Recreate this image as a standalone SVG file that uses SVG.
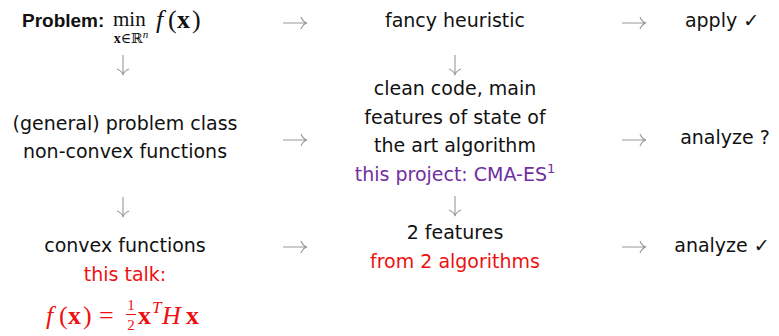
<svg xmlns="http://www.w3.org/2000/svg" width="779" height="336" viewBox="0 0 779 336">
<style>
.t{font-family:"DejaVu Sans","Liberation Sans",sans-serif;font-size:19px;fill:#111;text-anchor:middle}
.m{font-family:"Liberation Serif","DejaVu Serif",serif;font-size:26px;fill:#111}
.i{font-style:italic}
.b{font-weight:bold}
.red{fill:#ee1111}
.pur{fill:#7030a0}
.ar{stroke:#9a9a9a;stroke-width:1.1;fill:none}
</style>
<rect width="779" height="336" fill="#fff"/>
<g id="problem">
<text x="22" y="27" style="font-family:'Liberation Sans',sans-serif;font-size:19px;font-weight:bold;fill:#111">Problem:</text>
<text x="113" y="26" class="m" style="font-size:21px">min</text>
<text x="131" y="43" class="m" text-anchor="middle" style="font-size:14px"><tspan font-weight="bold">x</tspan>∈ℝ<tspan font-style="italic" dy="-5" font-size="11">n</tspan></text>
<text y="28" class="m"><tspan x="156" class="i">f</tspan><tspan x="168">(</tspan><tspan x="177" class="b">x</tspan><tspan x="192">)</tspan></text>
</g>
<g id="fancy"><text x="455" y="27" class="t">fancy heuristic</text></g>
<g id="apply"><text x="722" y="27" class="t">apply ✓</text></g>
<g id="general">
<text x="125" y="130" class="t">(general) problem class</text>
<text x="125" y="158" class="t">non-convex functions</text>
</g>
<g id="clean">
<text x="455" y="95" class="t">clean code, main</text>
<text x="455" y="124" class="t">features of state of</text>
<text x="455" y="152" class="t">the art algorithm</text>
<text x="455" y="181" class="t pur">this project: CMA-ES<tspan dy="-8" font-size="13">1</tspan></text>
</g>
<g id="analyze1"><text x="725" y="144" class="t">analyze ?</text></g>
<g id="convex">
<text x="125" y="252" class="t">convex functions</text>
<text x="125" y="281" class="t red">this talk:</text>
<text y="324" class="m red"><tspan x="46" class="i">f</tspan><tspan x="59">(</tspan><tspan x="68" class="b">x</tspan><tspan x="83">)</tspan><tspan x="99">=</tspan></text>
<text x="131" y="310" class="m red" text-anchor="middle" style="font-size:15px">1</text>
<line x1="126" y1="314.5" x2="136" y2="314.5" stroke="#ee1111" stroke-width="1"/>
<text x="131" y="330" class="m red" text-anchor="middle" style="font-size:15px">2</text>
<text y="324" class="m red"><tspan x="138" class="b">x</tspan><tspan x="152" y="313" class="i" font-size="17">T</tspan><tspan x="162" y="324" class="i">H</tspan><tspan x="186" class="b">x</tspan></text>
</g>
<g id="features">
<text x="455" y="239" class="t">2 features</text>
<text x="455" y="268" class="t red">from 2 algorithms</text>
</g>
<g id="analyze2"><text x="722" y="252" class="t">analyze ✓</text></g>
<g id="connectors" class="ar">
<path d="M283,23H306M301,17Q303,22 307,23Q303,24 301,29"/>
<path d="M622,23H645M640,17Q642,22 646,23Q642,24 640,29"/>
<path d="M123,55V74M117,69Q122,71 123,75Q124,71 129,69"/>
<path d="M455,55V74M449,69Q454,71 455,75Q456,71 461,69"/>
<path d="M283,140H306M301,134Q303,139 307,140Q303,141 301,146"/>
<path d="M622,140H645M640,134Q642,139 646,140Q642,141 640,146"/>
<path d="M123,197V216M117,211Q122,213 123,217Q124,213 129,211"/>
<path d="M455,196V215M449,210Q454,212 455,216Q456,212 461,210"/>
<path d="M283,247H306M301,241Q303,246 307,247Q303,248 301,253"/>
<path d="M622,247H645M640,241Q642,246 646,247Q642,248 640,253"/>
</g>
</svg>
